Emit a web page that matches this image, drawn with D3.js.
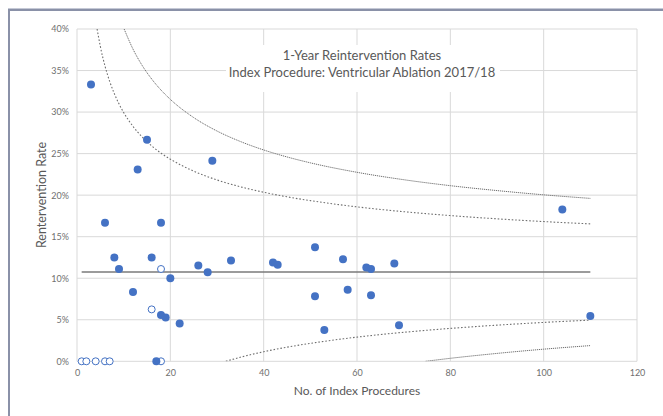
<!DOCTYPE html>
<html><head><meta charset="utf-8">
<script src="https://cdn.jsdelivr.net/npm/d3@7"></script>
<style>
html,body{margin:0;padding:0;background:#fff;}
svg{display:block;font-family:Lato,"Open Sans",sans-serif;}
</style></head>
<body>
<script>
// ---- data ----
const filledN    = [3, 15, 13, 29, 6, 18, 8, 16, 9, 20, 12, 18, 19, 22, 26, 28, 33, 42, 43, 51, 51, 53, 57, 58, 62, 63, 63, 68, 69, 104, 110, 17];
const filledRate = [0.3333, 0.2667, 0.2308, 0.2414, 0.1667, 0.1667, 0.125, 0.125, 0.1111, 0.10, 0.0833, 0.0556, 0.0526, 0.0455, 0.1154, 0.1071, 0.1212, 0.1190, 0.1163, 0.1373, 0.0784, 0.0377, 0.1228, 0.0862, 0.1129, 0.1111, 0.0794, 0.1176, 0.0435, 0.1827, 0.0545, 0];
const openN    = [1, 2, 4, 6, 7, 18, 18, 16];
const openRate = [0, 0, 0, 0, 0, 0, 0.1111, 0.0625];
const meanRate = 0.1075;
const meanRange = [1, 110];
// funnel limits (n, rate)
const upper95N = [4.31, 5, 6, 7, 8, 9, 10, 12, 14, 16, 18, 20, 25, 30, 35, 40, 45, 50, 60, 70, 80, 90, 100, 110];
const upper95R = [0.400, 0.379, 0.3554, 0.337, 0.3222, 0.3099, 0.2995, 0.2828, 0.2698, 0.2593, 0.2506, 0.2433, 0.2289, 0.2183, 0.2101, 0.2035, 0.1980, 0.1934, 0.1859, 0.1801, 0.1754, 0.1715, 0.1682, 0.1654];
const lower95N = [31.9, 35, 40, 45, 50, 60, 70, 80, 90, 100, 110];
const lower95R = [0.0, 0.0049, 0.0115, 0.0170, 0.0216, 0.0291, 0.0349, 0.0396, 0.0435, 0.0468, 0.0496];
const upper998N = [10.1, 12, 14, 16, 18, 20, 25, 30, 35, 40, 45, 50, 60, 70, 80, 90, 100, 110];
const upper998R = [0.400, 0.3758, 0.3558, 0.3398, 0.3265, 0.3153, 0.2934, 0.2772, 0.2646, 0.2544, 0.2460, 0.2389, 0.2275, 0.2186, 0.2114, 0.2055, 0.2004, 0.1961];
const lower998N = [74.7, 80, 90, 100, 110];
const lower998R = [0.0, 0.0036, 0.0095, 0.0146, 0.0189];
const xTicks = [0, 20, 40, 60, 80, 100, 120];
const yTicks = [0, 0.05, 0.10, 0.15, 0.20, 0.25, 0.30, 0.35, 0.40];
const titleLines = ["1-Year Reintervention Rates", "Index Procedure: Ventricular Ablation 2017/18"];
const xTitle = "No. of Index Procedures";
const yTitle = "Rentervention Rate";

// ---- drawing ----
const W = 663, H = 416;
const svg = d3.select("body").append("svg").attr("width", W).attr("height", H);

// outer frame
svg.append("rect").attr("x", 9).attr("y", 10).attr("width", W + 20).attr("height", H + 20)
  .attr("fill", "#fff").attr("stroke", "#8a91a8").attr("stroke-width", 2);
svg.append("line").attr("x1", 8).attr("x2", W).attr("y1", 8.5).attr("y2", 8.5)
  .attr("stroke", "#c5c9d6").attr("stroke-width", 1);

const x = d3.scaleLinear().domain([0, 120]).range([77, 637]);
const y = d3.scaleLinear().domain([0, 0.40]).range([361.3, 29]);

// gridlines
svg.append("g").selectAll("line").data(yTicks).join("line")
  .attr("x1", x(0)).attr("x2", x(120)).attr("y1", d => y(d)).attr("y2", d => y(d))
  .attr("stroke", "#d9d9d9").attr("stroke-width", 1);
svg.append("g").selectAll("line").data(xTicks).join("line")
  .attr("x1", d => x(d)).attr("x2", d => x(d)).attr("y1", y(0)).attr("y2", y(0.40))
  .attr("stroke", "#d9d9d9").attr("stroke-width", 1);

// axes (labels only)
const yAxis = d3.axisLeft(y).tickValues(yTicks).tickFormat(d3.format(".0%")).tickSize(0).tickPadding(8);
const gy = svg.append("g").attr("transform", `translate(${x(0)},0)`).call(yAxis);
const xAxis = d3.axisBottom(x).tickValues(xTicks).tickSize(0).tickPadding(8);
const gx = svg.append("g").attr("transform", `translate(0,${y(0)})`).call(xAxis);
[gx, gy].forEach(g => {
  g.select(".domain").remove();
  g.selectAll("text").attr("fill", "#6f6f6f").attr("font-size", 9).attr("font-family", "Lato, sans-serif");
});

// title with white background
const tg = svg.append("g");
tg.append("rect").attr("x", 226).attr("y", 45).attr("width", 274).attr("height", 47).attr("fill", "#fff");
tg.selectAll("text").data(titleLines).join("text")
  .attr("x", 362).attr("y", (d, i) => 60 + i * 17)
  .attr("text-anchor", "middle").attr("font-size", 13).attr("fill", "#595959").text(d => d);

// axis titles
svg.append("text").attr("x", 357).attr("y", 395).attr("text-anchor", "middle")
  .attr("font-size", 12).attr("fill", "#595959").text(xTitle);
svg.append("text").attr("transform", `translate(46,195) rotate(-90)`).attr("text-anchor", "middle")
  .attr("font-size", 12.5).attr("fill", "#595959").text(yTitle);

// clip
svg.append("clipPath").attr("id", "plot").append("rect")
  .attr("x", x(0)).attr("y", y(0.40)).attr("width", x(120) - x(0)).attr("height", y(0) - y(0.40));

const line = d3.line().x(d => x(d[0])).y(d => y(d[1])).curve(d3.curveMonotoneX);
const curves = [
  [upper998N, upper998R, "1.2,0.8", 1],
  [lower998N, lower998R, "1.2,0.8", 1],
  [upper95N, upper95R, "1.6,1.9", 1.1],
  [lower95N, lower95R, "1.6,1.9", 1.1]
];
const cg = svg.append("g").attr("clip-path", "url(#plot)");
curves.forEach(([ns, rs, dash, sw]) => {
  cg.append("path").datum(ns.map((n, i) => [n, rs[i]]))
    .attr("d", line).attr("fill", "none").attr("stroke", "#6f6f6f")
    .attr("stroke-width", sw).attr("stroke-dasharray", dash);
});

// mean line
svg.append("line").attr("x1", x(meanRange[0])).attr("x2", x(meanRange[1]))
  .attr("y1", y(meanRate)).attr("y2", y(meanRate))
  .attr("stroke", "#7a7a7a").attr("stroke-width", 1.3);

// points
svg.append("g").selectAll("circle").data(openN.map((n, i) => [n, openRate[i]])).join("circle")
  .attr("cx", d => x(d[0])).attr("cy", d => y(d[1])).attr("r", 3.5)
  .attr("fill", "#fff").attr("stroke", "#4472c4").attr("stroke-width", 1);
svg.append("g").selectAll("circle").data(filledN.map((n, i) => [n, filledRate[i]])).join("circle")
  .attr("cx", d => x(d[0])).attr("cy", d => y(d[1])).attr("r", 4)
  .attr("fill", "#4472c4");
</script>
</body></html>
